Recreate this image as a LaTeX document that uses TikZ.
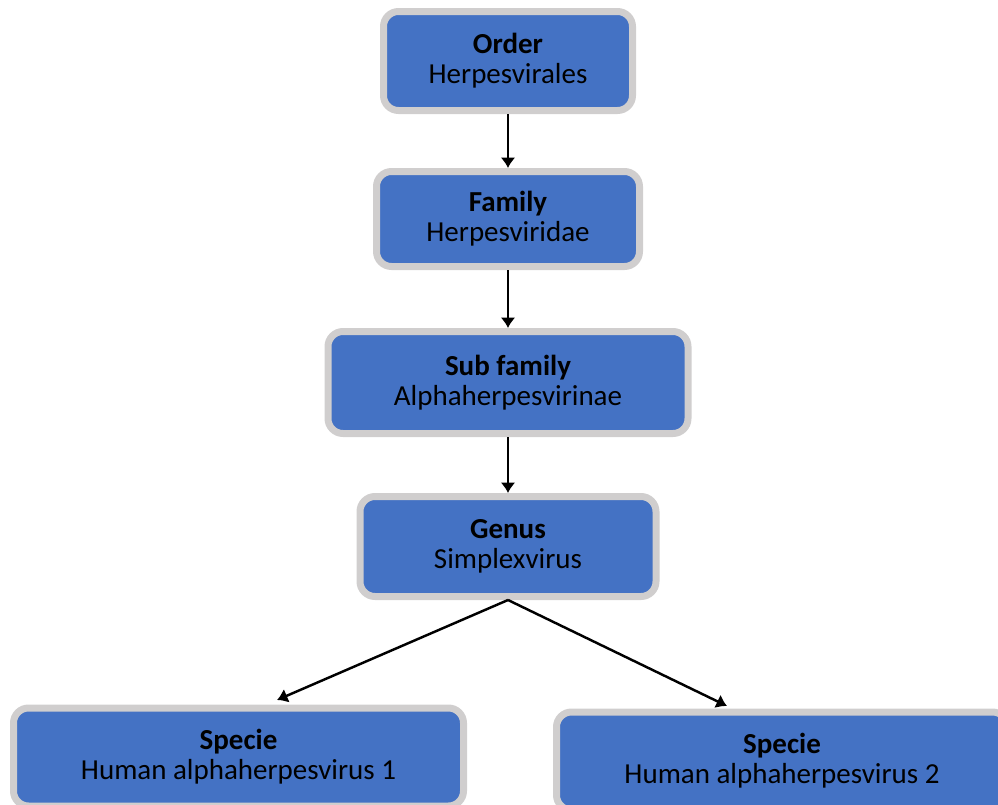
\documentclass[tikz,border=0pt]{standalone}
\usepackage{fontspec}
\setmainfont{Carlito}
\usetikzlibrary{arrows.meta, positioning}
\definecolor{boxblue}{HTML}{4472C4}
\definecolor{boxgray}{HTML}{D0CECE}
\tikzstyle{box}=[draw=boxgray, fill=boxblue, line width=0.14cm, rounded corners=0.3cm, align=center, outer sep=0.07cm, font=\fontsize{16.5}{17}\selectfont]
\tikzstyle{arr} = [line width=1.4pt,-{Latex[length=0.21cm,width=0.3cm]}]

\begin{document}
\begin{tikzpicture}
    \useasboundingbox (0,0) rectangle (19.96,-16.1);

    \node [box, minimum width=4.98cm, minimum height=1.98cm] (O) at (10.16,-1.22) {\textbf{Order}\\Herpesvirales};
    \node [box, minimum width=5.26cm, minimum height=1.90cm, below=1.08cm of O] (F) {\textbf{Family}\\Herpesviridae};
    \node [box, minimum width=7.20cm, minimum height=2.04cm, below=1.16cm of F] (SF) {\textbf{Sub family}\\Alphaherpesvirinae};
    \node [box, minimum width=5.92cm, minimum height=2.00cm, below=1.12cm of SF] (G) {\textbf{Genus}\\Simplexvirus};
    \node [box, minimum width=9.00cm, minimum height=1.96cm] (S1) at (4.77,-15.14) {\textbf{Specie}\\Human alphaherpesvirus 1};
    \node [box, minimum width=9.02cm, minimum height=1.96cm] (S2) at (15.64,-15.22) {\textbf{Specie}\\Human alphaherpesvirus 2};

    \coordinate (s1in) at (5.54,-14.00);
    \coordinate (s2in) at (14.54,-14.12);

    \draw [arr] (O) -- (F);
    \draw [arr] (F) -- (SF);
    \draw [arr] (SF) -- (G);
    \draw [arr] (G.south) -- (s1in);
    \draw [arr] (G.south) -- (s2in);
\end{tikzpicture}
\end{document}
